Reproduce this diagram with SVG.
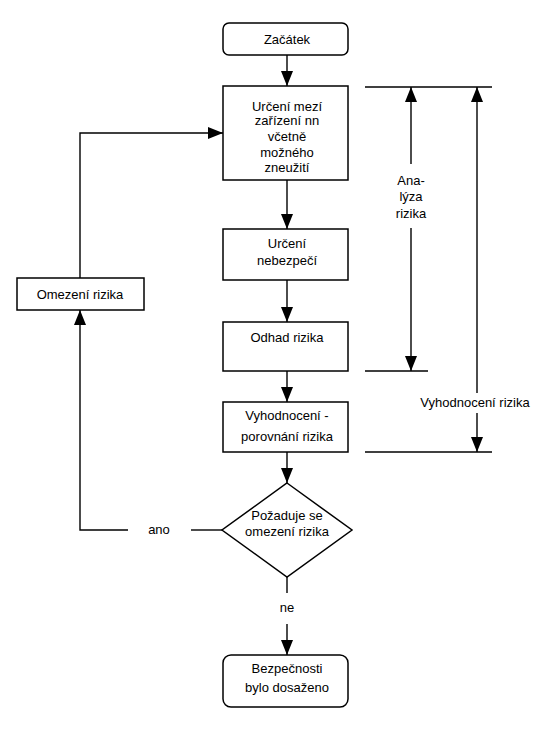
<svg xmlns="http://www.w3.org/2000/svg" width="550" height="736" viewBox="0 0 550 736">
<defs>
<marker id="ah" markerWidth="15" markerHeight="12" refX="15" refY="6" orient="auto" markerUnits="userSpaceOnUse" viewBox="0 0 15 12">
<path d="M0,0 L15,6 L0,12 Z" fill="#000"/>
</marker>
</defs>
<style>
.box{fill:#fff;stroke:#000;stroke-width:1.5}
.ln{fill:none;stroke:#000;stroke-width:1.4}
text{font-family:"Liberation Sans",Arial,sans-serif;font-size:13px;fill:#000;text-anchor:middle}
</style>
<rect width="550" height="736" fill="#fff"/>
<g id="connectors">
<line class="ln" x1="287" y1="55" x2="287" y2="86" marker-end="url(#ah)"/>
<line class="ln" x1="287" y1="180" x2="287" y2="229" marker-end="url(#ah)"/>
<line class="ln" x1="287" y1="280" x2="287" y2="322" marker-end="url(#ah)"/>
<line class="ln" x1="287" y1="371" x2="287" y2="402" marker-end="url(#ah)"/>
<line class="ln" x1="287" y1="452" x2="287" y2="483" marker-end="url(#ah)"/>
<line class="ln" x1="287" y1="577" x2="287" y2="593"/>
<line class="ln" x1="287" y1="624" x2="287" y2="655" marker-end="url(#ah)"/>
<text x="287" y="612">ne</text>
<line class="ln" x1="222" y1="530" x2="191" y2="530"/>
<polyline class="ln" points="128,530 80,530 80,310" marker-end="url(#ah)"/>
<text x="159" y="534">ano</text>
<polyline class="ln" points="80,278 80,133 223,133" marker-end="url(#ah)"/>
<line class="ln" x1="365" y1="87" x2="492" y2="87"/>
<line class="ln" x1="365" y1="371" x2="428" y2="371"/>
<line class="ln" x1="365" y1="452" x2="492" y2="452"/>
<line class="ln" x1="411" y1="164" x2="411" y2="87" marker-end="url(#ah)"/>
<line class="ln" x1="411" y1="228" x2="411" y2="371" marker-end="url(#ah)"/>
<text x="411" y="185">Ana-</text>
<text x="411" y="201">lýza</text>
<text x="411" y="218">rizika</text>
<line class="ln" x1="477" y1="393" x2="477" y2="87" marker-end="url(#ah)"/>
<line class="ln" x1="477" y1="413" x2="477" y2="452" marker-end="url(#ah)"/>
<text x="475" y="407">Vyhodnocení rizika</text>
</g>
<g id="n-start">
<rect class="box" x="223" y="23" width="125" height="32" rx="6"/>
<text x="287" y="44">Začátek</text>
</g>
<g id="n-urceni-mezi">
<rect class="box" x="223" y="86" width="125" height="94"/>
<text x="287" y="111">Určení mezí</text>
<text x="287" y="125">zařízení nn</text>
<text x="287" y="141">včetně</text>
<text x="287" y="157">možného</text>
<text x="287" y="172">zneužití</text>
</g>
<g id="n-urceni-nebezpeci">
<rect class="box" x="223" y="229" width="125" height="51"/>
<text x="287" y="248">Určení</text>
<text x="287" y="265">nebezpečí</text>
</g>
<g id="n-odhad">
<rect class="box" x="223" y="322" width="125" height="49"/>
<text x="287" y="342">Odhad rizika</text>
</g>
<g id="n-vyhodnoceni">
<rect class="box" x="223" y="402" width="125" height="50"/>
<text x="287" y="420">Vyhodnocení -</text>
<text x="287" y="441">porovnání rizika</text>
</g>
<g id="n-decision">
<polygon class="box" points="287,483 352,530 287,577 222,530"/>
<text x="287" y="520">Požaduje se</text>
<text x="287" y="536">omezení rizika</text>
</g>
<g id="n-end">
<rect class="box" x="223" y="655" width="125" height="52" rx="8"/>
<text x="287" y="673">Bezpečnosti</text>
<text x="287" y="692">bylo dosaženo</text>
</g>
<g id="n-omezeni">
<rect class="box" x="17" y="278" width="127" height="32"/>
<text x="80" y="299">Omezení rizika</text>
</g>
</svg>
